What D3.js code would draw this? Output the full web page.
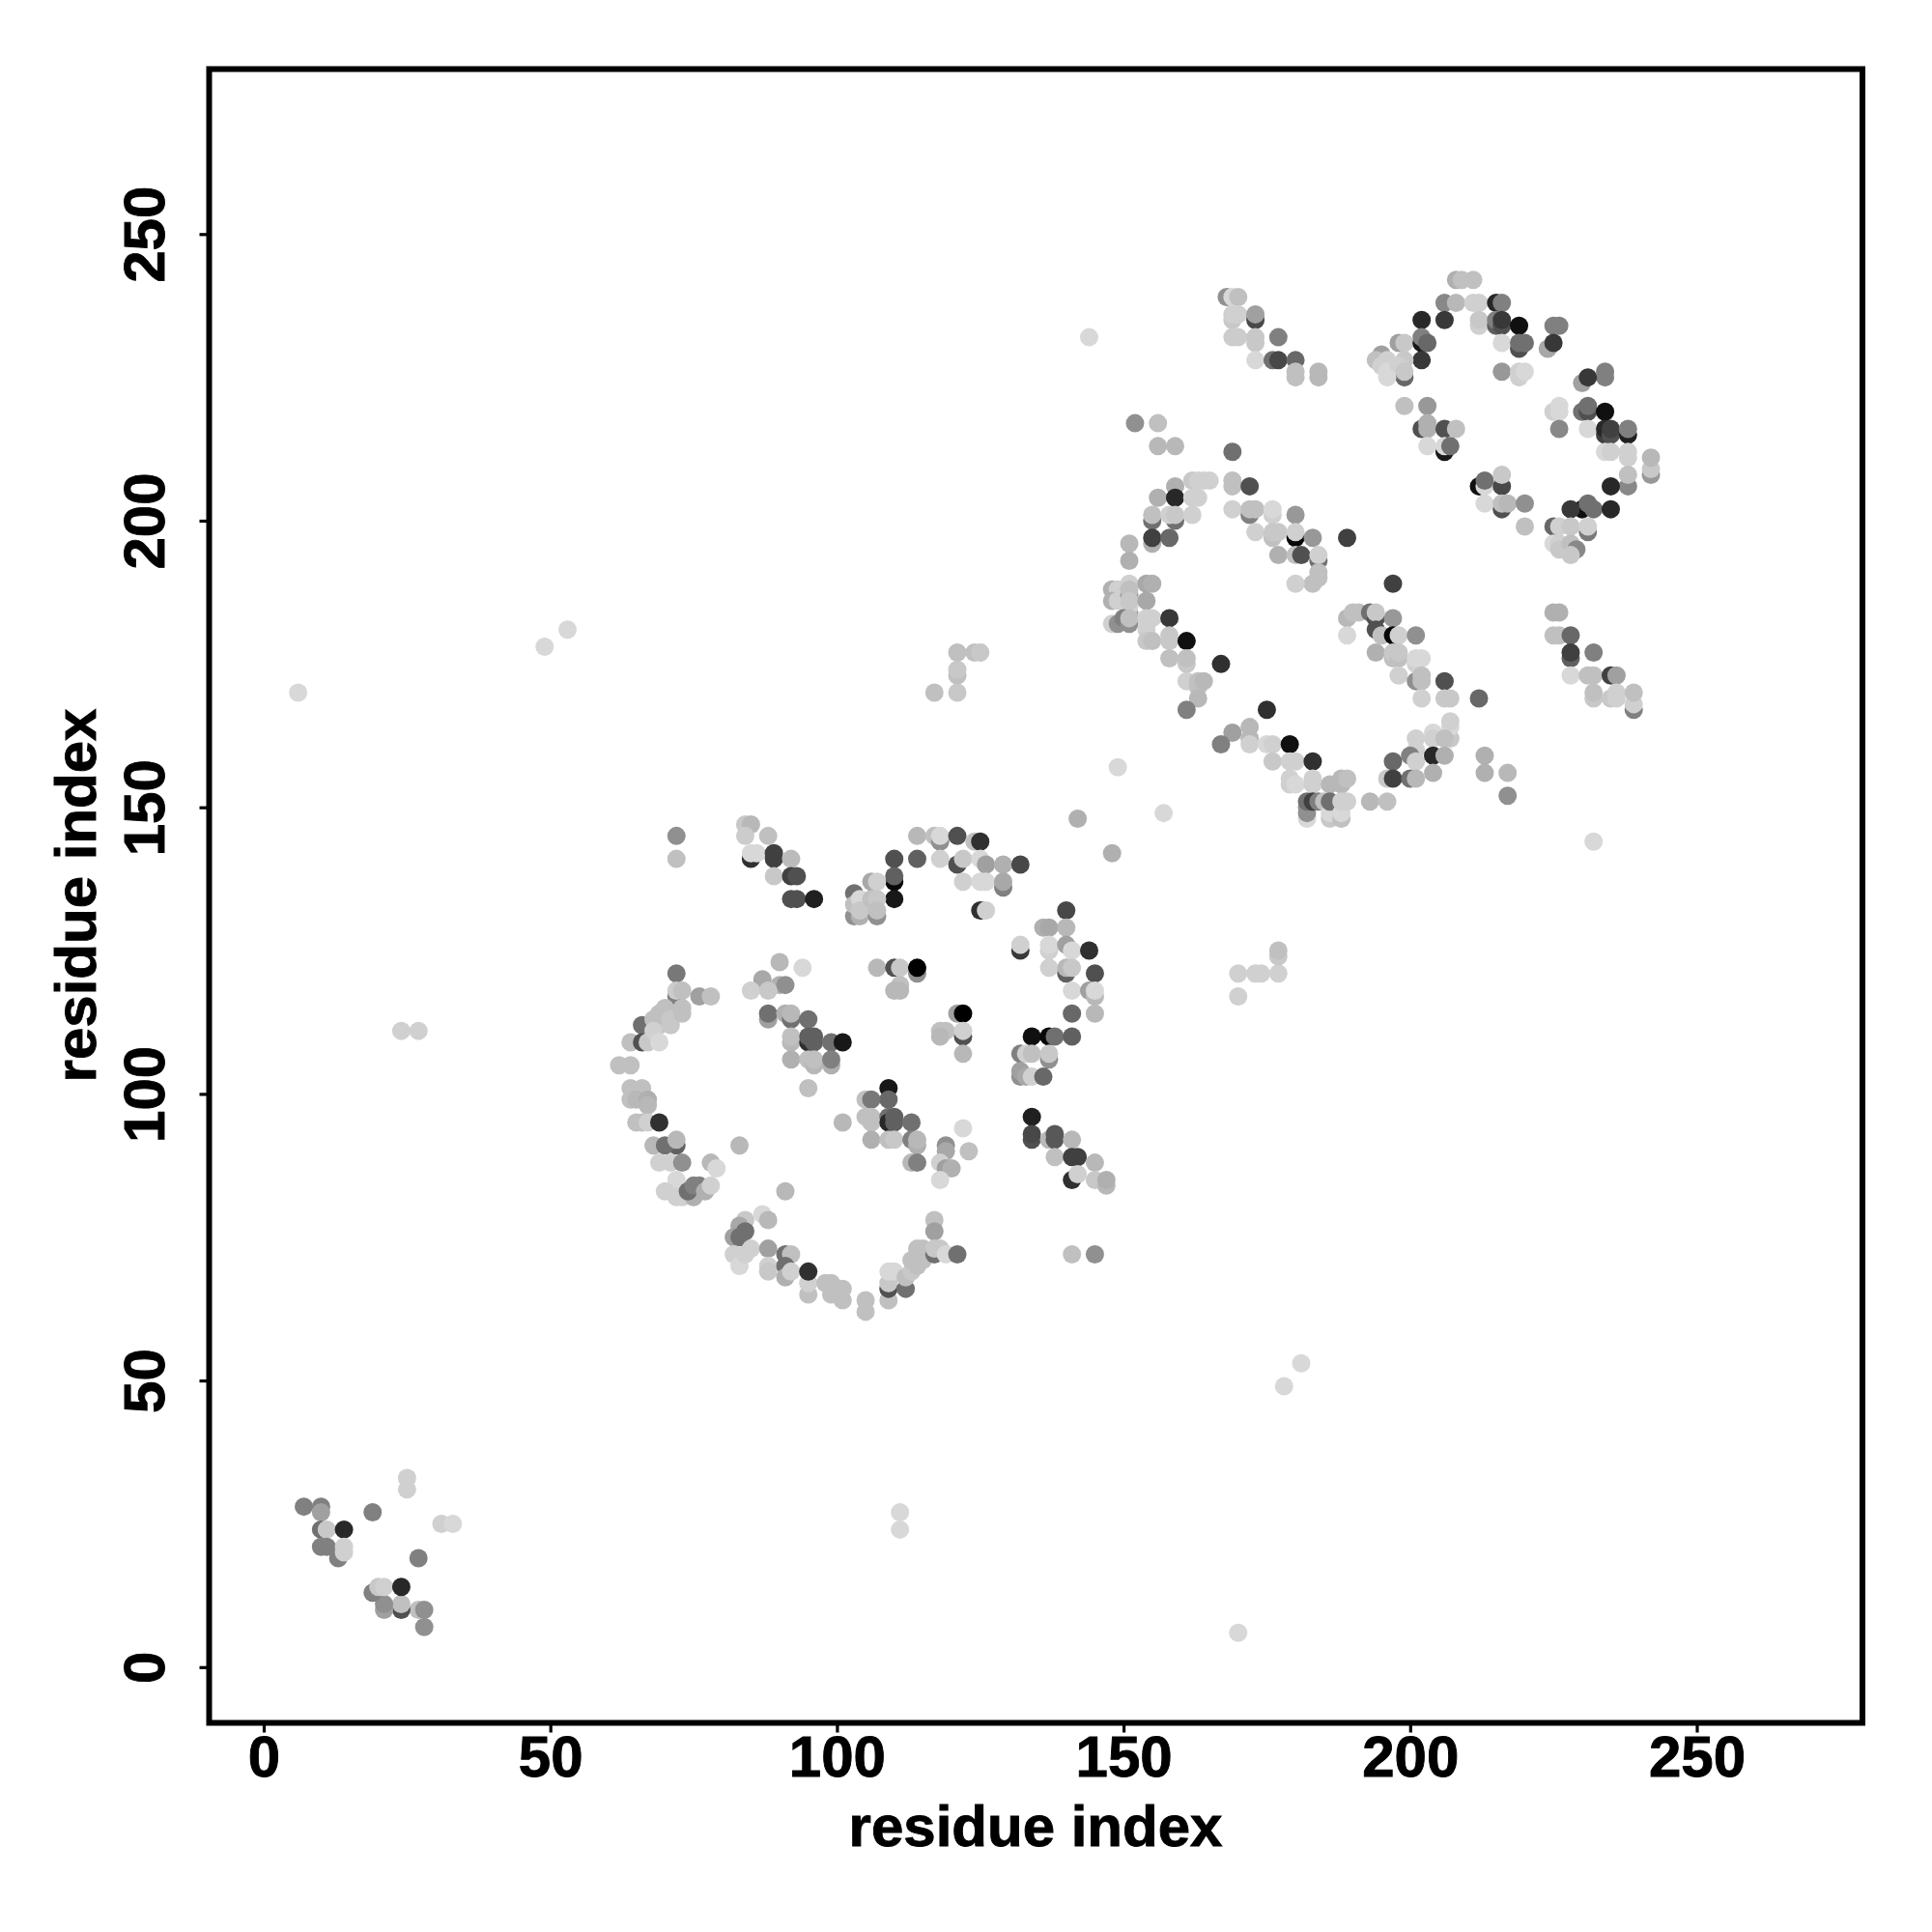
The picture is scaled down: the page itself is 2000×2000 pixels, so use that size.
<!DOCTYPE html>
<html><head><meta charset="utf-8">
<script src="https://cdn.jsdelivr.net/npm/d3@7"></script>
<style>html,body{margin:0;padding:0;background:#fff}svg{display:block}</style>
</head><body><div id="c"></div>
<script>
// each entry: residue i, residue j, grey level
const xTicks=[0,50,100,150,200,250];
const yTicks=[0,50,100,150,200,250];
const xLabel="residue index", yLabel="residue index";
const isolated=[[6,170,0xd8],[49,178,0xd8],[53,181,0xd8],[24,111,0xd0],[27,111,0xd0],[111,27,0xd8],[111,24,0xd8],[170,6,0xd8],[178,49,0xd8],[181,53,0xd8],
[117,170,0xc0],[121,170,0xc8],[121,173,0xc0],[121,174,0xc8],[121,177,0xc0],[124,177,0xc0],[125,177,0xc8],
[170,117,0xd0],[170,121,0xd0],[173,121,0xd0],[174,121,0xd0],[177,121,0xd0],[177,124,0xc8],[177,125,0xc0],
[141,72,0xc0],[145,72,0x90],[232,144,0xd8],[149,157,0xd8],[142,148,0xb0],[157,149,0xd8],[148,142,0xb0],[144,232,0xd8],[91,83,0xb8],[83,91,0xb8]];
const cornerCluster=[[28,7,0x90],[27,10,0xc0],[28,10,0x90],[24,10,0x50],[24,11,0xc0],[21,10,0xa0],[21,11,0x90],[19,13,0x80],[20,14,0xc8],[21,14,0xd0],[24,14,0x28],[27,19,0x80],
[7,28,0x80],[10,28,0x80],[10,27,0xa0],[10,24,0x70],[11,24,0xc8],[14,24,0x28],[10,21,0x80],[11,21,0x80],[13,19,0x80],[14,20,0xd0],[14,21,0xd0],[19,27,0x80],[25,33,0xd0],[25,31,0xd0],[31,25,0xd0],[33,25,0xd8]];
const midTop=[[72,145,0x90],[72,141,0xc0],[84,147,0xc8],[85,147,0xb8],[84,145,0xcc],[88,145,0xc0],[85,141,0x30],[85,142,0xd8],[86,142,0xd8],[89,142,0x40],[89,141,0x40],[92,141,0xbb],[89,138,0xc8],[92,138,0x40],[93,138,0x50],[92,134,0x50],[93,134,0x50],[96,134,0x20],
[114,145,0xb8],[117,145,0xc0],[118,144,0x90],[118,145,0xd8],[121,145,0x50],[124,144,0xc0],[125,144,0x30],[114,141,0x60],[118,141,0xd0],[121,140,0x50],[122,141,0xc8],[125,141,0xd8],[126,140,0xa0],[129,140,0xb0],[132,140,0x48],[122,137,0xd0],[125,137,0xd8],[126,137,0xd8],[129,136,0x80],[129,137,0xa8],[110,141,0x50],[110,137,0x08],[110,138,0x60],[110,134,0x18],[125,132,0x30],[126,132,0xd0],
[103,135,0x70],[103,131,0x90],[104,131,0xb0],[107,131,0x90],[103,133,0xc0],[104,134,0xd8],[104,132,0xc8],[106,137,0xa8],[107,137,0xd0],[106,134,0xc0],[107,134,0xc8],[107,132,0xc0]];
const midRight=[[140,132,0x48],[136,129,0xb0],[137,129,0xa8],[140,129,0xb8],[132,125,0x38],[132,126,0xd0],[137,125,0xd0],[137,126,0xd8],[140,126,0xa0],[141,125,0xd8],[144,125,0x30],[137,122,0xd0],[140,121,0x60],[140,122,0xb8],[141,122,0xc8],[145,121,0x50],[141,118,0xd8],[144,118,0xa0],[145,117,0xb8],[145,118,0xd8],[141,114,0x68],[145,114,0xb8],
[134,110,0x10],[137,110,0x08],[138,110,0x70],[141,110,0x60],[132,107,0x80],[133,107,0xd0],[134,107,0xc0],[137,106,0x90],[137,107,0xc8],[132,103,0x90],[132,104,0xa0],[133,103,0xa8],[134,103,0xd0],[136,103,0x68],
[134,96,0x20],[134,92,0x50],[134,93,0x48],[137,92,0xb8],[138,92,0x58],[138,93,0x58],[141,92,0xb8],[138,89,0xc0],[141,89,0x40],[142,89,0x40],[145,88,0xb8],[141,85,0x30],[142,86,0xd0],[145,85,0xc8],[147,84,0xb8],[147,85,0xb0]];
const midCentre=[[90,123,0xb8],[94,122,0xd8],[87,120,0xa8],[90,119,0xb0],[91,119,0x90],[85,118,0xd0],[88,118,0xc8],
[88,113,0xa0],[88,114,0x70],[91,114,0xb0],[92,113,0x70],[92,114,0xb8],[95,113,0x70],[92,109,0xb8],[92,110,0xc0],[95,109,0x30],[95,110,0x60],[96,109,0x60],[96,110,0x60],[99,109,0x70],[101,109,0x18],[92,106,0xb0],[95,106,0xc0],[96,105,0xb8],[96,106,0xc0],[99,105,0xb0],[99,106,0x80],[95,101,0xc0],
[107,122,0xb8],[110,122,0x50],[111,122,0xc8],[114,121,0x90],[114,122,0x00],[111,119,0xc0],[110,118,0xb8],[111,118,0xb8],
[121,114,0xa0],[122,114,0x00],[118,111,0xc0],[119,111,0xc0],[118,110,0xb8],[122,110,0x50],[122,111,0xd0],[122,107,0xb8],
[109,101,0x18],[109,99,0x68],[105,99,0xc0],[106,99,0x78],[105,96,0xc0],[106,96,0xc0],[106,95,0xc0],[109,96,0x70],[109,95,0x28],[110,95,0x60],[110,96,0x60],[113,95,0x70],[101,95,0xb8],[106,92,0xb0],[109,92,0xc0],[110,92,0xc8],[113,92,0x80],[114,91,0xb0],[114,92,0xb8],[113,88,0xb8],[114,88,0x80],[119,91,0x90],[119,90,0xa8],[122,94,0xd8],[123,90,0xc0],[118,88,0xd0],[119,87,0xa0],[120,87,0xb0],[118,85,0xd8]];
const ringLeft=[[72,121,0x78],[72,117,0x80],[72,118,0xcc],[73,118,0xc0],[76,117,0xa0],[78,117,0xc0],[70,115,0xc0],[69,114,0xc0],[73,115,0xc0],[66,112,0x70],[68,113,0xc0],[69,112,0xc0],[71,113,0xc8],[71,112,0xc8],[73,114,0xc0],[64,109,0xc0],[66,109,0x50],[67,109,0xc8],[68,111,0xd0],[69,109,0xd8],[62,105,0xc0],[64,105,0xc0],
[64,101,0xc0],[66,101,0xc0],[64,99,0xc0],[65,99,0xb8],[67,99,0xb0],[67,98,0xb8],[65,95,0xc0],[66,95,0xc0],[67,95,0xd0],[69,95,0x30],[68,91,0xb8],[72,91,0x60],[70,91,0x70],[72,92,0xb8],[69,88,0xd0],[71,88,0xd0],[73,88,0x90],[78,88,0xb8],[79,87,0xd8],[72,85,0xd8],[70,83,0xd0],[72,82,0xd0],[73,82,0xd0],[75,82,0xb0],[74,83,0x70],[75,84,0x80],[76,84,0x80],[77,83,0xb0],[78,84,0xd0]];
const ringBottom=[[87,79,0xd8],[88,78,0xb8],[84,78,0xc8],[83,77,0xa8],[84,76,0x70],[82,75,0xa0],[83,75,0x70],[82,72,0xd0],[83,70,0xd8],[84,72,0xd0],[85,73,0xd0],[88,73,0xa0],[88,70,0xd0],[88,69,0xc8],[91,72,0x70],[92,72,0xc0],[91,70,0x70],[91,68,0xb0],[92,69,0xd0],[95,65,0xc0],[95,67,0xd0],[95,69,0x30],[98,67,0xc0],[99,67,0xc0],[99,65,0xc0],[101,66,0xc0],[101,64,0xc0],[105,64,0xc0],[105,62,0xc0],[109,64,0xc0],[109,66,0x50],[109,67,0xc8],[109,69,0xd8],[110,69,0xd8],[112,66,0x70],[112,68,0xc0],[113,69,0xc8],[114,70,0xc0],[113,71,0xc0],[115,71,0xc0],[114,73,0xc0],[115,73,0xc0],[117,78,0xc0],[117,76,0xa0],[117,72,0x70],[117,73,0xc8],[118,73,0xc8],[119,72,0xd8],[121,72,0x70]];
const topA=[[168,239,0x90],[169,239,0xd8],[170,239,0xc0],[169,235,0xc8],[169,236,0xd0],[170,236,0xd0],[173,235,0x48],[173,236,0xa0],[169,232,0xcc],[170,232,0xcc],[173,231,0xc8],[173,232,0xc8],[173,228,0xd8],[176,228,0x70],[177,232,0x80],[177,228,0x48],[180,228,0x68],[180,225,0xc0],[180,226,0xc0],[184,225,0xb8],[184,226,0xb8]];
const topB=[[208,242,0xb0],[209,242,0xc0],[211,242,0xc0],[206,238,0x88],[208,238,0xb8],[211,238,0xd0],[212,238,0xd0],[215,238,0x28],[216,238,0x80],[202,235,0x28],[206,235,0x38],[212,234,0xd0],[212,235,0xc8],[215,234,0x60],[215,235,0x80],[216,234,0x50],[216,235,0x38],[219,234,0x10],[225,234,0x80],[226,234,0x80],
[198,231,0xa0],[199,231,0xc8],[202,231,0x18],[202,232,0x80],[203,231,0x68],[216,231,0xd8],[219,230,0x50],[219,231,0x70],[220,231,0x70],[224,230,0xa8],[225,231,0x38],[202,228,0x38],[195,229,0xa0],[194,228,0xc0],[196,228,0xd0],[199,225,0x68],[199,228,0xc8],[195,227,0xd0],[196,226,0xd8],[198,227,0xd0],[199,226,0xc8],[196,225,0xd8],
[216,226,0x98],[219,225,0xd0],[219,226,0xd0],[220,226,0xd8],[234,225,0x80],[234,226,0x80],[230,224,0xa0],[231,225,0x38]];
const topC=[[199,220,0xc0],[203,220,0x98],[202,216,0x50],[203,216,0xb0],[203,217,0xb0],[206,216,0x50],[208,216,0xc0],[206,212,0x18],[203,213,0xd8],[206,213,0xd8],[207,213,0x70],
[225,219,0xd0],[226,219,0xd8],[226,220,0xd8],[230,219,0x70],[231,219,0x50],[231,220,0x70],[234,219,0x10],[226,216,0x88],[231,216,0xd8],[234,215,0x40],[234,216,0x28],[235,215,0x50],[235,216,0x40],[238,215,0x20],[238,216,0x80],[234,212,0xd8],[235,212,0xd0],[238,211,0xd0],[238,212,0xd0],[242,208,0x98],[242,209,0xc8],[242,211,0xb8],[238,206,0x88],[238,208,0xc0],[235,206,0x28],
[212,206,0x10],[213,206,0xd8],[213,207,0x70],[216,206,0x48],[216,208,0xc8],[216,202,0x50],[213,203,0xd8],[216,203,0xc0],[217,203,0xb8],[220,203,0x90],[220,199,0xc0],[230,202,0x10],[228,202,0x38],[231,203,0x70],[232,202,0x70],[235,202,0x28],
[225,199,0x68],[226,199,0xd0],[231,198,0x78],[228,199,0xc8],[231,199,0xd0],[225,196,0xd8],[226,196,0xd0],[226,195,0xc8],[228,196,0xc0],[229,195,0x88],[228,194,0xc8]];
const ringUpper=[[152,217,0x90],[156,217,0xc0],[156,213,0xb8],[159,213,0xb8],[169,212,0x70],[159,206,0xb0],[156,204,0xb0],[159,204,0x28],[162,207,0xc8],[163,207,0xd0],[164,207,0xd0],[165,207,0xd0],[162,204,0xd0],[163,204,0xd0],[169,206,0xc0],[169,207,0xc0],[172,206,0x50],[155,200,0x70],[155,201,0xc0],[159,200,0x70],[158,201,0xd0],[159,201,0xc8],[162,201,0xd0],[155,196,0xb0],[155,197,0x40],[158,197,0x68],[151,196,0xb8],[151,193,0xb0],
[169,202,0xd0],[172,201,0x80],[172,202,0xc0],[173,202,0xc0],[176,201,0xd0],[176,202,0xd8],[180,201,0x98],[173,198,0xd0],[176,197,0xc0],[176,198,0xc8],[177,198,0xc8],[180,197,0x08],[180,198,0xd0],[183,197,0x98],[189,197,0x40],[177,194,0xb0],[180,194,0xc0],[181,194,0x50],[184,193,0x70],[184,194,0xd0],[184,191,0xc0],[184,190,0xc0],[183,189,0xc0],[180,189,0xd0]];
const ringWest=[[148,188,0xb0],[149,188,0xd0],[151,189,0xd0],[154,189,0xa8],[155,189,0xb0],[148,186,0xb0],[149,186,0xd0],[151,187,0xa0],[151,188,0xc0],[151,184,0xa0],[151,185,0xd0],[151,186,0xc8],[154,186,0xa8],[148,182,0xd0],[149,182,0x90],[150,183,0x80],[151,182,0x90],[151,183,0xc0],[154,183,0xd0],[155,183,0xd0],[158,183,0x38],[154,181,0xd0],[154,179,0xc8],[155,179,0xc0],[158,179,0xc8],[158,180,0xc8],[161,179,0x10],[158,176,0xc0],[161,175,0xc8],[161,176,0xc0],[167,175,0x30],[161,172,0xd0],[163,171,0xc0],[163,172,0xc0],[164,172,0xb8],[163,169,0xb8],[161,167,0x80],[175,167,0x30]];
const ringSouth=[[169,163,0xa0],[172,162,0xb8],[172,164,0xb8],[167,161,0x80],[172,161,0xd0],[175,161,0xd8],[176,161,0xd0],[179,161,0x10],[176,158,0xc8],[179,158,0xd0],[180,158,0xd0],[183,158,0x30],[179,155,0xd0],[179,154,0xd0],[180,154,0xd8],[183,154,0xd0],[183,155,0xd0],[186,154,0xb8],[188,154,0xb8],[188,155,0xb8],[189,155,0xc0],
[182,148,0xd8],[182,149,0x90],[182,150,0x90],[182,151,0x70],[183,151,0x40],[184,151,0x80],[185,151,0xc0],[186,148,0xc8],[186,149,0xd8],[186,151,0x70],[188,148,0xc0],[188,149,0xd8],[188,151,0xd0],[189,151,0xd0],[193,151,0xb8],[196,151,0xc0]];
const ringEast=[[189,183,0xb8],[190,184,0xc0],[191,184,0xc0],[193,184,0x70],[194,183,0x50],[194,184,0xc8],[197,183,0x98],[194,181,0x50],[195,180,0xc0],[197,180,0x08],[198,180,0xd0],[201,180,0x90],[189,180,0xd8],[194,177,0xb0],[197,176,0xc0],[197,177,0xc8],[198,176,0xc0],[198,177,0xc8],[201,175,0xd0],[201,176,0xd8],[202,176,0xd8],[198,173,0xd0],[201,172,0x90],[202,172,0xc0],[202,173,0xc0],[206,172,0x50],[202,169,0xd0],[206,169,0xc8],[207,169,0xc8],[212,169,0x68],[197,189,0x40],
[207,162,0xc8],[207,164,0xd8],[207,165,0xd0],[204,163,0xd8],[201,162,0xd0],[204,162,0xd0],[206,162,0xc0],[201,160,0xd0],[200,159,0x80],[201,158,0xd0],[204,159,0x28],[206,159,0xb0],[213,159,0xb0],[197,158,0x68],[213,156,0xb0],[217,156,0xb8],[204,156,0xb0],[217,152,0x90],[196,155,0xc8],[197,155,0x40],[200,155,0x70],[201,155,0xb8]];
const ringFar=[[225,184,0xb0],[226,184,0xb0],[225,180,0xc0],[226,180,0xc0],[228,180,0x68],[228,176,0x60],[228,177,0x40],[232,177,0x80],[228,173,0xd8],[231,173,0xc0],[232,173,0xc0],[235,173,0x40],[236,173,0xa0],[232,169,0xc8],[232,170,0xc0],[235,169,0xc8],[236,169,0xd0],[236,170,0xd0],[239,167,0x80],[239,168,0xd0],[239,170,0xc0]];
const regions=[isolated,cornerCluster,midTop,midRight,midCentre,ringLeft,ringBottom,topA,topB,topC,ringUpper,ringWest,ringSouth,ringEast,ringFar];

const W=2000,H=2000;
const x=d3.scaleLinear().domain([0,250]).range([273,1756.5]);
const y=d3.scaleLinear().domain([0,250]).range([1725.8,242.3]);
const boxL=216.5,boxR=1928,boxT=71.5,boxB=1783.5;
const FONT='"Liberation Sans",Arial,sans-serif';
const svg=d3.select("#c").append("svg").attr("width",W).attr("height",H);
svg.append("g").selectAll("g").data(regions).join("g").selectAll("circle").data(d=>d).join("circle")
 .attr("cx",d=>x(d[0])).attr("cy",d=>y(d[1])).attr("r",9.5).attr("fill",d=>d3.rgb(d[2],d[2],d[2]));
const ax=svg.append("g").attr("transform",`translate(0,${boxB})`).call(d3.axisBottom(x).tickValues(xTicks).tickSize(10).tickSizeOuter(0).tickFormat(d3.format("d")));
const ay=svg.append("g").attr("transform",`translate(${boxL},0)`).call(d3.axisLeft(y).tickValues(yTicks).tickSize(10).tickSizeOuter(0).tickFormat(d3.format("d")));
const heavy=s=>s.attr("fill","#000").attr("stroke","#000").attr("stroke-width",0.9).style("font-family",FONT).style("font-weight","bold").style("font-size","60px");
[ax,ay].forEach(a=>{a.select(".domain").remove();a.selectAll("line").attr("stroke","#000").attr("stroke-width",3.2);
 heavy(a.selectAll("text"));});
ax.selectAll("text").attr("dy",null).attr("y",55.5);
ay.selectAll("text").attr("x",null).attr("dy",null).attr("text-anchor","middle")
 .attr("transform",`translate(${170-boxL},0) rotate(-90)`);
svg.append("rect").attr("x",boxL).attr("y",boxT).attr("width",boxR-boxL).attr("height",boxB-boxT).attr("fill","none").attr("stroke","#000").attr("stroke-width",6);
heavy(svg.append("text").attr("x",1072).attr("y",1910.7).attr("text-anchor","middle")).text(xLabel);
heavy(svg.append("text").attr("transform","translate(98.5,927) rotate(-90)").attr("text-anchor","middle")).text(yLabel);
</script></body></html>
